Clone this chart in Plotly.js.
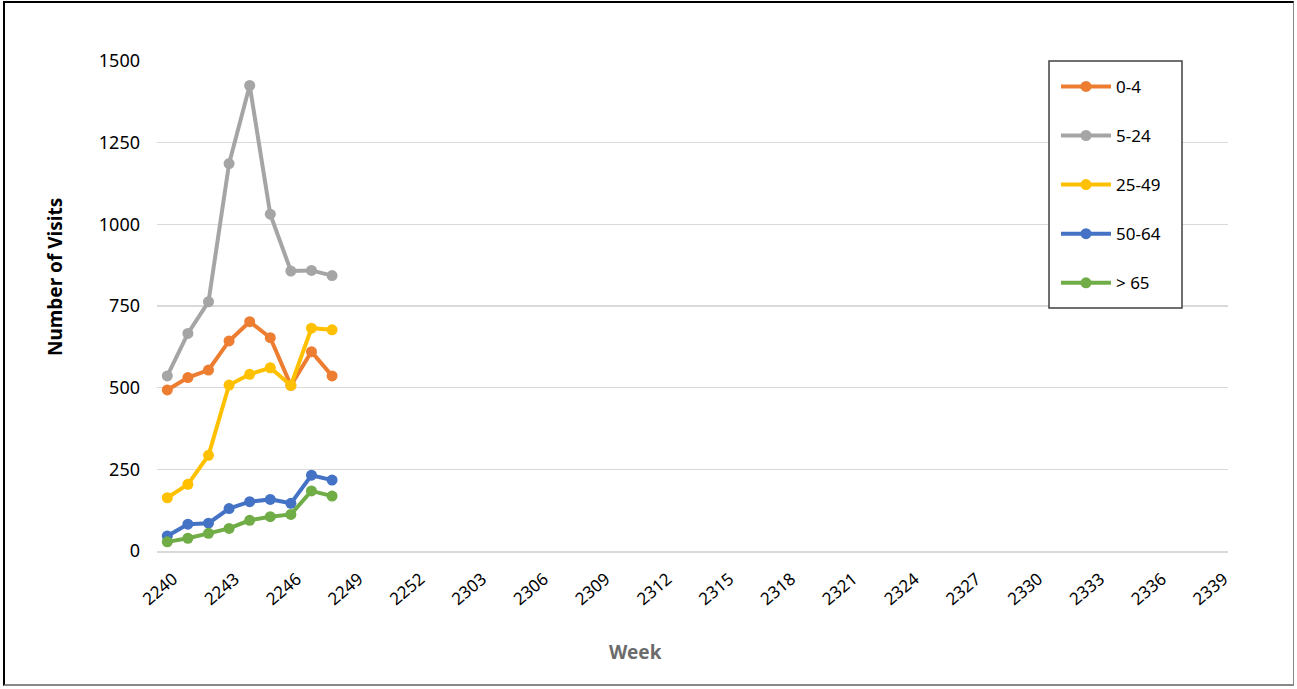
<!DOCTYPE html>
<html>
<head>
<meta charset="utf-8">
<script src="https://cdn.plot.ly/plotly-3.0.1.min.js"></script>
<style>
  html, body { margin: 0; padding: 0; background: #fff; }
  #wrap { position: relative; width: 1297px; height: 689px; }
  #chart { width: 1297px; height: 689px; }
  #frame { position: absolute; left: 3px; top: 1px; width: 1291px; height: 685px;
           border-left: 2px solid #000; border-top: 2px solid #000;
           border-right: 1px solid #888; border-bottom: 2px solid #888;
           pointer-events: none; box-sizing: border-box; }
</style>
</head>
<body>
<div id="wrap">
  <div id="chart"></div>
  <div id="frame"></div>
</div>
<script>
// Categories: weeks 2240-2252 and 2301-2339
const weeks = [];
for (let w = 40; w <= 52; w++) weeks.push('22' + String(w).padStart(2, '0'));
for (let w = 1; w <= 39; w++) weeks.push('23' + String(w).padStart(2, '0'));

const dataWeeks = ['2240','2241','2242','2243','2244','2245','2246','2247','2248'];

const age0_4   = [493, 531, 554, 643, 702, 653, 507, 610, 536];
const age5_24  = [536, 666, 763, 1186, 1425, 1031, 857, 859, 843];
const age25_49 = [163, 204, 293, 508, 541, 561, 507, 682, 677];
const age50_64 = [46, 82, 85, 130, 151, 158, 146, 232, 217];
const age65    = [28, 39, 54, 69, 94, 105, 112, 184, 168];

const tickLabels = weeks.filter((_, i) => i % 3 === 0);

const seriesNames = ['0-4', '5-24', '25-49', '50-64', '> 65'];
const seriesValues = [age0_4, age5_24, age25_49, age50_64, age65];
const colors = ['#ED7D31', '#A5A5A5', '#FFC000', '#4472C4', '#70AD47'];

const traces = seriesNames.map((name, i) => ({
  type: 'scatter',
  mode: 'lines+markers',
  name: name,
  legendgroup: 'g' + i,
  x: dataWeeks,
  y: seriesValues[i],
  line: { color: colors[i], width: 4 },
  marker: { color: colors[i], size: 11 }
}));

const FONT = 'Noto Sans, Liberation Sans, sans-serif';

const layout = {
  width: 1297,
  height: 689,
  margin: { l: 157, r: 69, t: 61, b: 138 },
  paper_bgcolor: '#ffffff',
  plot_bgcolor: '#ffffff',
  font: { family: FONT, color: '#000' },
  showlegend: true,
  legend: {
    x: (1056 - 157) / 1071, xanchor: 'left',
    y: 0.984, yanchor: 'top',
    borderwidth: 0,
    bgcolor: 'rgba(0,0,0,0)',
    font: { size: 17, color: '#000' },
    tracegroupgap: 24,
    itemwidth: 50
  },
  shapes: [
    {
      type: 'rect', xref: 'paper', yref: 'paper', layer: 'above',
      x0: (1049 - 157) / 1071, x1: (1182 - 157) / 1071,
      y0: (551 - 308) / 490, y1: 1,
      line: { color: '#404040', width: 1.5 },
      fillcolor: '#ffffff'
    }
  ],
  xaxis: {
    type: 'category',
    categoryorder: 'array',
    categoryarray: weeks,
    range: [-0.5, weeks.length - 0.5],
    tickmode: 'array',
    tickvals: tickLabels,
    ticktext: tickLabels,
    tickangle: -40,
    tickfont: { size: 17, color: '#000' },
    ticklabelshift: 6,
    ticklabelstandoff: 10,
    showgrid: false,
    showline: true,
    linecolor: '#d9d9d9',
    linewidth: 1.5,
    ticks: '',
    zeroline: false,
    fixedrange: true
  },
  yaxis: {
    range: [0, 1500],
    dtick: 250,
    tick0: 0,
    showgrid: true,
    gridcolor: '#d9d9d9',
    gridwidth: 1.5,
    zeroline: false,
    showline: false,
    ticks: '',
    tickfont: { size: 18, color: '#000' },
    ticklabelstandoff: 16
  },
  annotations: [
    {
      text: '<b>Week</b>', xref: 'paper', yref: 'paper',
      x: (635 - 157) / 1071, y: -(652 - 551) / 490,
      xanchor: 'center', yanchor: 'middle', showarrow: false,
      font: { size: 19, color: '#6b6b6b', family: FONT }
    },
    {
      text: '<b>Number of Visits</b>', xref: 'paper', yref: 'paper',
      x: -(157 - 55) / 1071, y: (551 - 277) / 490,
      xanchor: 'center', yanchor: 'middle', showarrow: false, textangle: -90,
      font: { size: 19, color: '#000', family: FONT }
    }
  ]
};

Plotly.newPlot('chart', traces, layout, { displayModeBar: false, staticPlot: true });
</script>
</body>
</html>
